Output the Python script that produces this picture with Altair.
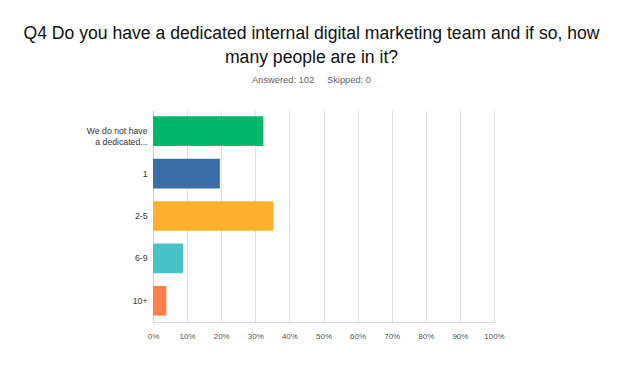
import altair as alt
import pandas as pd

categories = ["We do not have a dedicated...", "1", "2-5", "6-9", "10+"]
percent = [32.35, 19.61, 35.29, 8.82, 3.92]
colors = ["#00B86B", "#3A6EA8", "#FFB02E", "#48C2C5", "#FF7F4C"]

df = pd.DataFrame({"answer": categories, "share": [p / 100 for p in percent]})

font = "Liberation Sans"

chart = alt.Chart(df).mark_bar().encode(
    x=alt.X("share:Q",
            scale=alt.Scale(domain=[0, 1]),
            axis=alt.Axis(title=None, format=".0%", values=[i / 10 for i in range(11)],
                          grid=True, gridColor="#e0e0e0", ticks=False,
                          domainColor="#d9d9d9", labelColor="#555555",
                          labelFontSize=8, labelPadding=10, labelFont=font,
                          labelFlush=False)),
    y=alt.Y("answer:N", sort=categories,
            scale=alt.Scale(paddingInner=0.3, paddingOuter=0.15),
            axis=alt.Axis(title=None, ticks=False, domainColor="#cfcfcf",
                          labelColor="#333333", labelFontSize=8.7, labelPadding=6,
                          labelFont=font, labelLineHeight=11,
                          labelExpr="datum.label == 'We do not have a dedicated...' ? ['We do not have', 'a dedicated...'] : datum.label")),
    color=alt.Color("answer:N", sort=categories,
                    scale=alt.Scale(domain=categories, range=colors), legend=None),
).properties(
    width=341,
    height=212,
    autosize=alt.AutoSizeParams(type="none"),
    padding={"left": 145, "top": 102, "right": 118, "bottom": 40},
    background="white",
    title=alt.TitleParams(
        text=["Q4 Do you have a dedicated internal digital marketing team and if so, how",
              "many people are in it?"],
        subtitle="Answered: 102\u00a0\u00a0\u00a0\u00a0\u00a0Skipped: 0",
        anchor="middle", dx=-12, offset=25,
        font=font, fontSize=17.6, fontWeight="normal", color="#111111", lineHeight=24,
        subtitleFont=font, subtitleFontSize=9.3, subtitleColor="#666666",
        subtitlePadding=9,
    ),
).configure_view(stroke=None)

chart.save("out.html", embed_options={"renderer": "svg", "actions": False})
